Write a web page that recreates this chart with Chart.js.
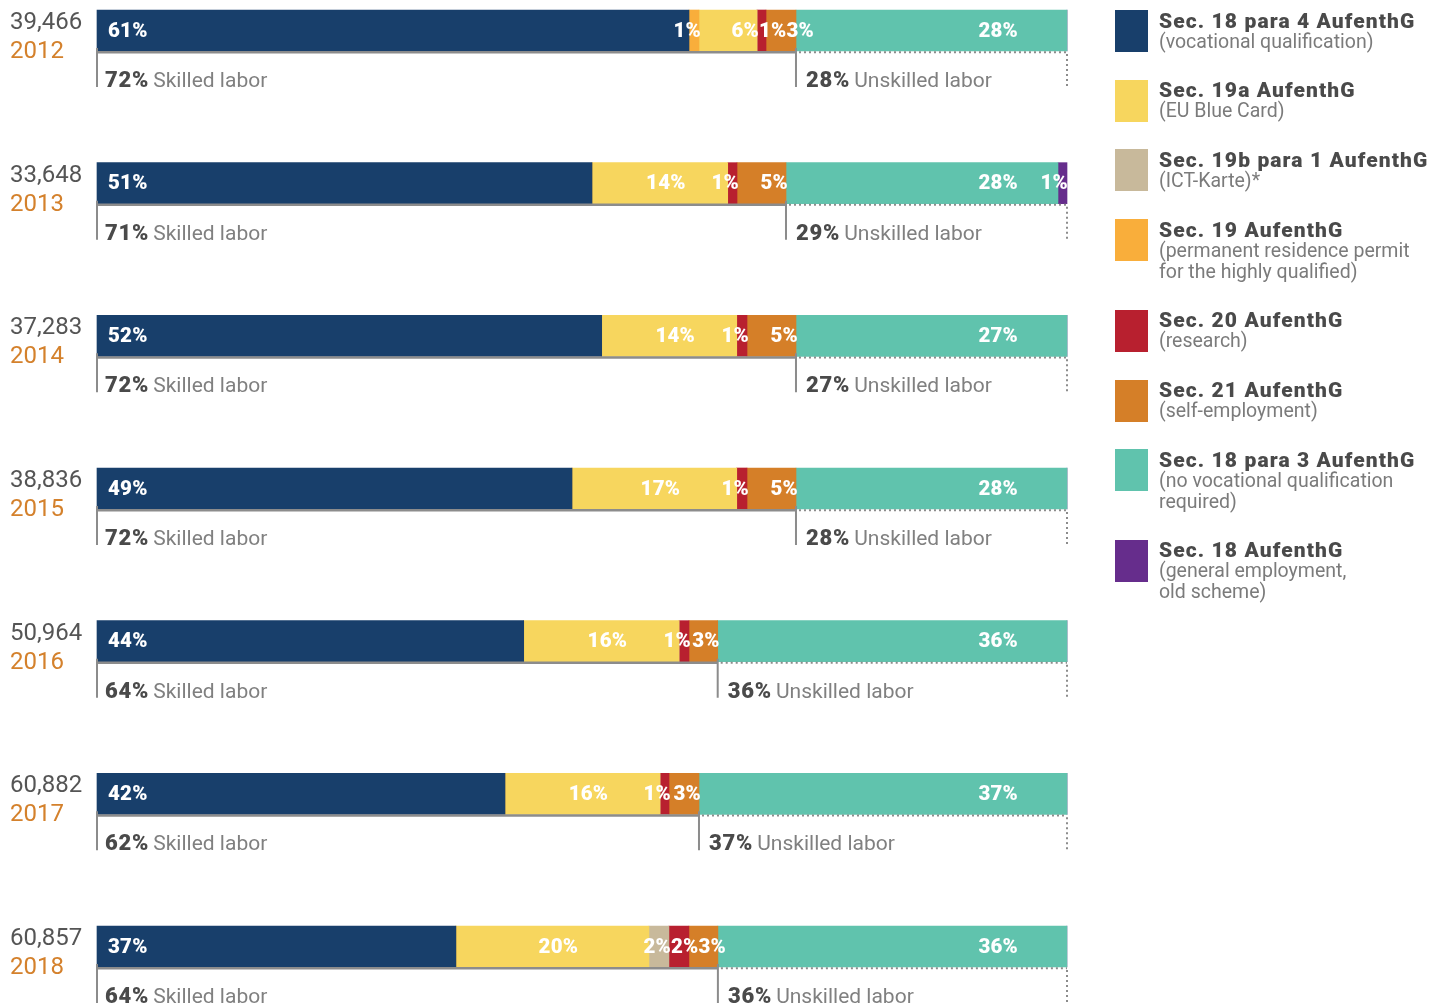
<!DOCTYPE html>
<html><head><meta charset="utf-8">
<script src="https://cdn.jsdelivr.net/npm/chart.js@4.4.1/dist/chart.umd.min.js"></script>
<style>
html,body{margin:0;padding:0;background:#fff;}
#wrap{position:relative;width:1442px;height:1008px;overflow:hidden;background:#fff;}
#c{position:absolute;left:0;top:0;}
.sq{position:absolute;left:1115px;width:33px;height:42px;}
.tx{position:absolute;left:1159px;white-space:nowrap;font-family:Roboto,sans-serif;}
.tt{font-weight:900;font-size:21px;line-height:20px;letter-spacing:1.1px;color:#4a4a4a;}
.st{font-weight:400;font-size:19.5px;line-height:21px;color:#7b7b7b;}
</style></head><body>
<div id="wrap"><canvas id="c" width="1442" height="1008"></canvas><div id="legend"></div></div>
<script>
// ---- data ----
const years = ['2012','2013','2014','2015','2016','2017','2018'];
const totals = ['39,466','33,648','37,283','38,836','50,964','60,882','60,857'];

const sec18p4 = [61.03, 51.03, 52.03, 48.97, 43.99, 42.06, 37.00];
const sec19   = [1.03, 0, 0, 0, 0, 0, 0];
const sec19a  = [5.98, 13.99, 13.92, 16.98, 16.01, 15.98, 19.90];
const sec19b  = [0, 0, 0, 0, 0, 0, 2.06];
const sec20   = [0.93, 0.96, 1.06, 1.06, 1.03, 0.93, 2.06];
const sec21   = [3.09, 5.05, 5.05, 5.05, 2.96, 3.09, 2.99];
const sec18p3 = [27.94, 28.04, 27.94, 27.94, 36.01, 37.94, 35.98];
const sec18   = [0, 0.93, 0, 0, 0, 0, 0];

const lbl18p4 = ['61%','51%','52%','49%','44%','42%','37%'];
const lbl19   = ['1%','','','','','',''];
const lbl19a  = ['6%','14%','14%','17%','16%','16%','20%'];
const lbl19b  = ['','','','','','','2%'];
const lbl20   = ['1%','1%','1%','1%','1%','1%','2%'];
const lbl21   = ['3%','5%','5%','5%','3%','3%','3%'];
const lbl18p3 = ['28%','28%','27%','28%','36%','37%','36%'];
const lbl18   = ['','1%','','','','',''];

const skilledPct   = ['72%','71%','72%','72%','64%','62%','64%'];
const unskilledPct = ['28%','29%','27%','28%','36%','37%','36%'];

const seriesTitles = ['Sec. 18 para 4 AufenthG','Sec. 19 AufenthG','Sec. 19a AufenthG','Sec. 19b para 1 AufenthG','Sec. 20 AufenthG','Sec. 21 AufenthG','Sec. 18 para 3 AufenthG','Sec. 18 AufenthG'];
const seriesNotes = [
  ['(vocational qualification)'],
  ['(permanent residence permit','for the highly qualified)'],
  ['(EU Blue Card)'],
  ['(ICT-Karte)*'],
  ['(research)'],
  ['(self-employment)'],
  ['(no vocational qualification','required)'],
  ['(general employment,','old scheme)']
];
const legendOrder = [0,2,3,1,4,5,6,7];
const skilledCount = 6; // first six series are skilled labor

// ---- styles ----
const colors = ['#183f6b','#f9ae3b','#f7d65e','#c8b99b','#b8202f','#d57f28','#60c3ad','#662d8c'];
const seriesValues = [sec18p4, sec19, sec19a, sec19b, sec20, sec21, sec18p3, sec18];
const seriesLabels = [lbl18p4, lbl19, lbl19a, lbl19b, lbl20, lbl21, lbl18p3, lbl18];

const datasets = seriesValues.map((v,k)=>({
  label: seriesTitles[k], data: v, backgroundColor: colors[k],
  borderWidth: 0, barThickness: 41, clip: false, segLabels: seriesLabels[k]
}));

const annot = {
  id:'annot',
  afterDatasetsDraw(chart){
    const c = chart.ctx, xs = chart.scales.x, ys = chart.scales.y;
    const x0 = xs.getPixelForValue(0), x100 = xs.getPixelForValue(100);
    years.forEach((yr,i)=>{
      const yc = ys.getPixelForValue(i);
      const barTop = yc - 20.5, bottom = yc + 20.5;
      c.save();
      // bar labels
      c.font = '900 20.5px Roboto'; c.letterSpacing = '0.2px';
      c.fillStyle = '#fff'; c.textBaseline = 'middle'; c.textAlign = 'left';
      const items = [];
      chart.data.datasets.forEach((ds,k)=>{
        const t = ds.segLabels[i]; if(!t) return;
        const el = chart.getDatasetMeta(k).data[i];
        const p = el.getProps(['x','base'], true);
        const s = Math.min(p.x,p.base), e = Math.max(p.x,p.base);
        const w = c.measureText(t).width;
        let left;
        if(k===0) left = s + 11;
        else if(k===6) left = x100 - 49 - w;
        else if(k===7) left = e + 1 - w;
        else if(ds.data[i] >= 8) left = (s+e)/2 + 6 - w/2;
        else left = e + 2 - w;
        items.push({t,left,w,k});
      });
      let prevEnd = -1e9;
      items.forEach(it=>{
        if(it.k!==6 && it.k!==7 && it.left < prevEnd) it.left = prevEnd;
        c.fillText(it.t, it.left, yc + 1);
        prevEnd = it.left + it.w;
      });
      // left labels
      c.letterSpacing = '0px';
      c.textBaseline = 'alphabetic';
      c.font = '24px Roboto'; c.fillStyle = '#555';
      c.fillText(totals[i], 10, barTop + 19);
      c.fillStyle = '#d4812c';
      c.fillText(yr, 10, barTop + 48);
      // bracket
      let sk = 0; for(let k=0;k<skilledCount;k++) sk += seriesValues[k][i];
      const xb = xs.getPixelForValue(sk);
      c.strokeStyle = '#8c8c8c';
      c.lineWidth = 2.5; c.setLineDash([]);
      c.beginPath(); c.moveTo(x0, bottom+1.2); c.lineTo(xb, bottom+1.2); c.stroke();
      c.lineWidth = 2;
      c.beginPath(); c.moveTo(x0, bottom-3); c.lineTo(x0, bottom+36);
      c.moveTo(xb, bottom-3); c.lineTo(xb, bottom+36); c.stroke();
      c.setLineDash([2,3]);
      c.beginPath(); c.moveTo(xb+3, bottom+1.2); c.lineTo(x100, bottom+1.2);
      c.moveTo(x100, bottom+3); c.lineTo(x100, bottom+36); c.stroke();
      c.setLineDash([]);
      // bracket texts
      const drawPair = (bold, reg, x)=>{
        c.font = '900 22px Roboto'; c.letterSpacing = '0.8px'; c.fillStyle = '#4a4a4a';
        c.fillText(bold, x, bottom + 36);
        const w = c.measureText(bold).width;
        c.font = '21px Roboto'; c.letterSpacing = '0px'; c.fillStyle = '#808080';
        c.fillText(reg, x + w + 4, bottom + 36);
      };
      drawPair(skilledPct[i], 'Skilled labor', x0 + 8);
      drawPair(unskilledPct[i], 'Unskilled labor', xb + 10);
      c.restore();
    });
  }
};

new Chart(document.getElementById('c'), {
  type:'bar',
  data:{labels: years, datasets},
  options:{
    indexAxis:'y', responsive:false, animation:false,
    layout:{padding:{left:97,right:375,top:30.5,bottom:61.5}},
    scales:{
      x:{stacked:true,min:0,max:100,display:false},
      y:{stacked:true,display:false,offset:false}
    },
    plugins:{legend:{display:false},tooltip:{enabled:false}}
  },
  plugins:[annot]
});

// legend
const lg = document.getElementById('legend');
let legendTop = 10;
legendOrder.forEach(k=>{
  const sq = document.createElement('div');
  sq.className = 'sq'; sq.style.top = legendTop + 'px'; sq.style.background = colors[k];
  lg.appendChild(sq);
  const tx = document.createElement('div');
  tx.className = 'tx'; tx.style.top = (legendTop + 0.5) + 'px';
  const tt = document.createElement('div'); tt.className = 'tt'; tt.textContent = seriesTitles[k];
  tx.appendChild(tt);
  seriesNotes[k].forEach(line=>{
    const st = document.createElement('div'); st.className = 'st'; st.textContent = line;
    tx.appendChild(st);
  });
  lg.appendChild(tx);
  legendTop += 48.7 + 21 * seriesNotes[k].length;
});
</script>
</body></html>
